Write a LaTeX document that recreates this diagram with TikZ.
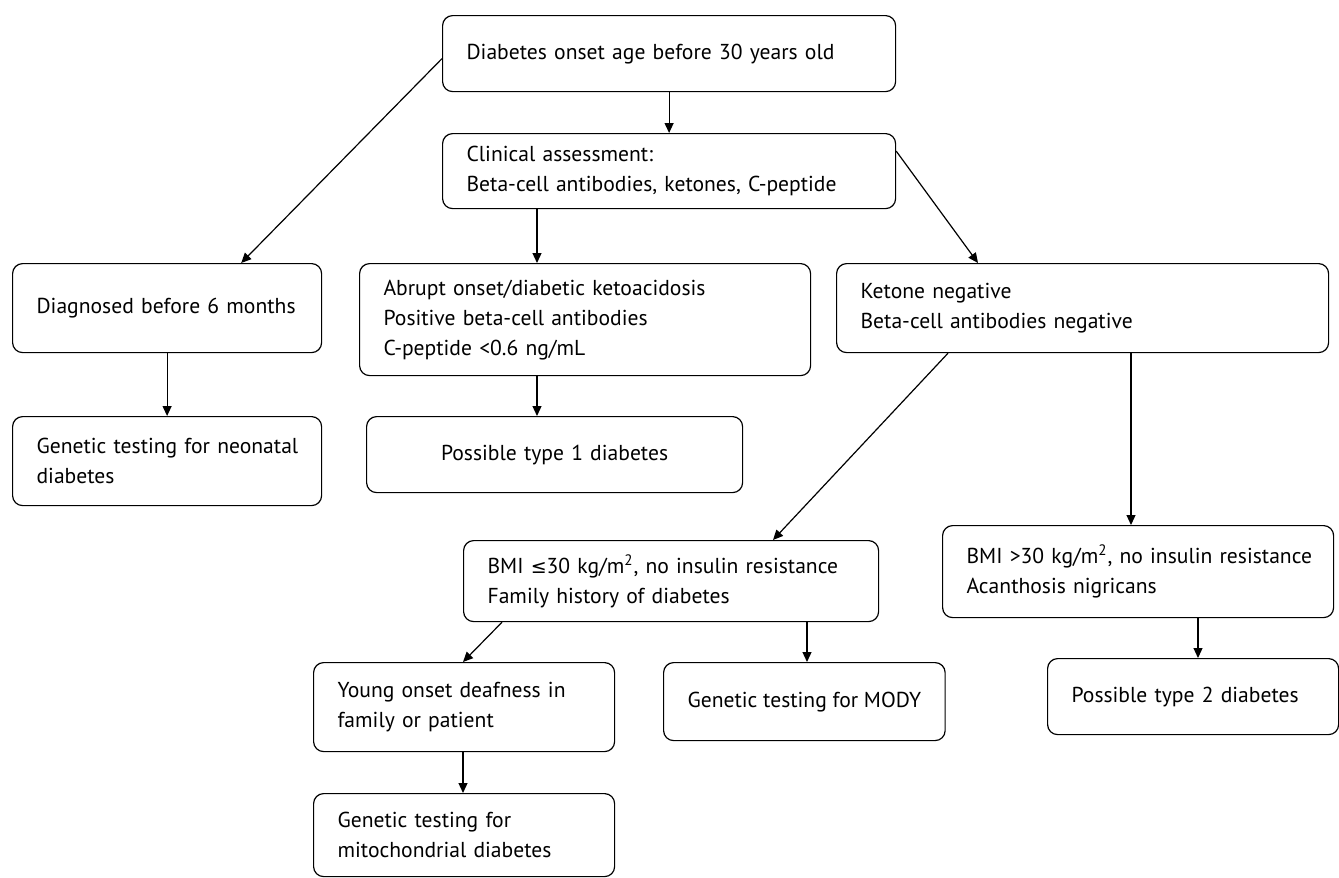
\documentclass[tikz,border=0pt]{standalone}
\usepackage{fontspec}
\setmainfont{PT Sans}
\newfontfamily\symfont{DejaVu Sans}
\usetikzlibrary{arrows.meta}
\tikzset{>={Triangle[length=5pt,width=4.5pt]}}
\newcommand{\kgm}{kg/m\textsuperscript{2}}
\newcommand{\leqsym}{{\symfont\fontsize{9.5}{15}\selectfont ≤}}

\begin{document}
\begin{tikzpicture}[x=0.5pt,y=-0.5pt,
              box/.style={draw, rounded corners=5pt, anchor=north west, align=left,
                          inner xsep=12pt, inner ysep=0pt, line width=0.6pt,
                          font=\fontsize{10.8}{15}\selectfont},
              arr/.style={->, line width=0.6pt},
             ]

\useasboundingbox (0,0) rectangle (1339,878);

% first row
\node[box, text width=202.5pt, minimum height=38pt] (onset) at (442,15) {Diabetes onset age before 30 years old};
\node[box, text width=202.5pt, minimum height=37.5pt] (clin) at (442,133) {Clinical assessment:\\Beta-cell antibodies, ketones, C-peptide};

% second row
\node[box, text width=130.5pt, minimum height=44.5pt] (diag) at (12,263) {\mbox{Diagnosed before 6 months}};
\node[box, text width=201.5pt, minimum height=56pt] (abrupt) at (359,263) {Abrupt onset/diabetic ketoacidosis\\Positive beta-cell antibodies\\C-peptide <0.6 ng/mL};
\node[box, text width=222pt, minimum height=44.5pt] (keto) at (836,263) {Ketone negative\\Beta-cell antibodies negative};

% third row
\node[box, text width=130.5pt, minimum height=44.5pt] (neo) at (12,416) {\mbox{Genetic testing for neonatal}\\diabetes};
\node[box, align=center, text width=164pt, minimum height=38pt] (type1) at (366,416) {Possible type 1 diabetes};

% BMI row
\node[box, text width=183.5pt, minimum height=40.5pt] (bmilo) at (463,540) {\mbox{BMI \leqsym30 \kgm, no insulin resistance}\\Family history of diabetes};
\node[box, text width=171.5pt, minimum height=46pt] (bmihi) at (942,525) {\mbox{BMI >30 \kgm, no insulin resistance}\\Acanthosis nigricans};

% last rows
\node[box, text width=126.5pt, minimum height=44.5pt] (young) at (313,662) {Young onset deafness in\\family or patient};
\node[box, minimum width=138.5pt, minimum height=39pt] (mody) at (663,662) {Genetic testing for MODY};
\node[box, text width=121.5pt, minimum height=38pt] (type2) at (1047,658) {Possible type 2 diabetes};
\node[box, text width=126.5pt, minimum height=41.5pt] (mito) at (313,793) {Genetic testing for\\mitochondrial diabetes};

% arrows
\draw[arr] (onset.south) -- (clin.north);
\draw[arr] ([yshift=-2.5pt]onset.west) -- ([xshift=-40.5pt]diag.north east);
\draw[arr] (diag.south) -- (neo.north);
\draw[arr] ([xshift=47.5pt]clin.south west) coordinate (c1) -- (c1 |- abrupt.north);
\draw[arr] ([xshift=89pt]abrupt.south west) coordinate (a1) -- (a1 |- type1.north);
\draw[arr] ([yshift=10pt]clin.east) -- ([xshift=71pt]keto.north west);
\draw[arr] ([xshift=56pt]keto.south west) -- ([xshift=155pt]bmilo.north west);
\draw[arr] ([xshift=147.5pt]keto.south west) coordinate (k1) -- (k1 |- bmihi.north);
\draw[arr] ([xshift=128pt]bmihi.south west) coordinate (b1) -- (b1 |- type2.north);
\draw[arr] ([xshift=19.5pt]bmilo.south west) -- ([xshift=75pt]young.north west);
\draw[arr] ([xshift=172pt]bmilo.south west) coordinate (b2) -- (b2 |- mody.north);
\draw[arr] ([xshift=75pt]young.south west) coordinate (y1) -- (y1 |- mito.north);
\end{tikzpicture}
\end{document}
